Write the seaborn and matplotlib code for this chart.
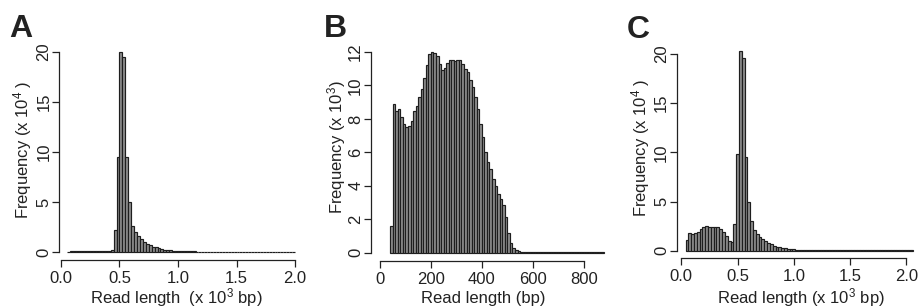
import pandas as pd
import matplotlib
matplotlib.use("Agg")
import matplotlib.pyplot as plt
import seaborn as sns

# Panel A: read-length histogram, 25 bp bins from 50 bp (x 10^3 bp), counts x 10^4
a_start = 0.05
a_width = 0.025
a_counts = [0.05, 0.10, 0.12, 0.12, 0.11, 0.10, 0.10, 0.11, 0.12, 0.12,
            0.13, 0.13, 0.12, 0.12, 0.13, 0.20, 2.2, 9.5, 20.0, 19.5,
            9.5, 5.0, 2.6, 2.0, 1.6, 1.3, 1.05, 0.85, 0.7, 0.55,
            0.45, 0.37, 0.3, 0.25, 0.2, 0.17, 0.14, 0.12, 0.1, 0.09,
            0.08, 0.07, 0.06, 0.055, 0.05, 0.05, 0.045, 0.045, 0.04, 0.04,
            0.04, 0.035, 0.035, 0.035, 0.03, 0.03, 0.03, 0.03, 0.03, 0.03,
            0.03, 0.03, 0.03, 0.03, 0.03, 0.03, 0.03, 0.03, 0.03, 0.03,
            0.03, 0.03, 0.03, 0.03, 0.03, 0.03, 0.03, 0.03]

# Panel B: 10 bp bins from 40 bp, counts x 10^3
b_start = 40
b_width = 10
b_counts = [1.6, 8.9, 8.5, 8.6, 8.1, 7.7, 7.5, 7.55, 7.9, 8.5,
            8.75, 9.3, 9.8, 10.45, 11.25, 11.9, 12.0, 11.95, 11.75, 11.3,
            10.9, 11.05, 11.35, 11.5, 11.55, 11.45, 11.55, 11.5, 11.3, 11.0,
            10.8, 10.3, 9.9, 9.3, 8.6, 7.7, 6.9, 6.0, 5.4, 5.0,
            4.4, 4.0, 3.5, 3.2, 2.85, 2.15, 1.15, 0.55, 0.3, 0.15,
            0.08, 0.05, 0.04, 0.03, 0.03, 0.03, 0.03, 0.03, 0.03, 0.02,
            0.02, 0.02, 0.02, 0.02, 0.02, 0.02, 0.02, 0.02, 0.02, 0.02,
            0.02, 0.02, 0.02, 0.02, 0.02, 0.02, 0.02, 0.02, 0.02, 0.02,
            0.02, 0.02, 0.02, 0.02]

# Panel C: 25 bp bins from 37.5 bp (x 10^3 bp), counts x 10^4
c_start = 0.0375
c_width = 0.025
c_counts = [1.1, 1.75, 1.65, 1.75, 1.95, 2.2, 2.43, 2.5, 2.43, 2.4,
            2.43, 2.36, 2.16, 1.86, 1.49, 1.0, 0.9, 2.7, 9.8, 20.3,
            19.6, 9.5, 4.9, 3.0, 2.1, 1.7, 1.4, 1.15, 0.95, 0.8,
            0.65, 0.52, 0.42, 0.35, 0.28, 0.23, 0.19, 0.16, 0.13, 0.11,
            0.1, 0.09, 0.08, 0.07, 0.06, 0.055, 0.05, 0.05, 0.045, 0.045,
            0.04, 0.04, 0.04, 0.035, 0.035, 0.035, 0.03, 0.03, 0.03, 0.03,
            0.03, 0.03, 0.03, 0.03, 0.03, 0.03, 0.03, 0.03, 0.03, 0.03,
            0.03, 0.03, 0.03, 0.03, 0.03, 0.03, 0.03, 0.03, 0.03, 0.03,
            0.03]

sns.set_style("ticks")
plt.rcParams["font.family"] = ["Liberation Sans", "DejaVu Sans"]
plt.rcParams["mathtext.fontset"] = "custom"
plt.rcParams["mathtext.rm"] = "Liberation Sans"

W, H = 919, 308
INK = "#222222"
fig = plt.figure(figsize=(W / 100, H / 100), dpi=100)


def box(left, right, top, bottom):
    return [left / W, (H - bottom) / H, (right - left) / W, (bottom - top) / H]


def put(x, y, s, **kw):
    fig.text(x / W, 1 - y / H, s, color=INK, **kw)


panels = [
    dict(rect=box(59, 310, 44, 260), start=a_start, width=a_width, counts=a_counts,
         xlim=(-0.017, 2.128), ylim=(-0.8, 20.8),
         xticks=[0.0, 0.5, 1.0, 1.5, 2.0], xlabels=["0.0", "0.5", "1.0", "1.5", "2.0"],
         yticks=[0, 5, 10, 15, 20],
         xlabel="Read length  (x 10$\\mathregular{^{3}}$ bp)", xlab_xy=(176, 298),
         ylabel="Frequency (x 10$\\mathregular{^{4}}$ )", ylab_xy=(23, 150),
         tag="A", tag_xy=(9, 37)),
    dict(rect=box(370.7, 613, 44, 260.7), start=b_start, width=b_width, counts=b_counts,
         xlim=(-36.5, 915), ylim=(-0.48, 12.48),
         xticks=[0, 200, 400, 600, 800], xlabels=["0", "200", "400", "600", "800"],
         yticks=[0, 2, 4, 6, 8, 10, 12],
         xlabel="Read length (bp)", xlab_xy=(483, 298),
         ylabel="Frequency (x 10$\\mathregular{^{3}}$)", ylab_xy=(337, 147),
         tag="B", tag_xy=(324, 37)),
    dict(rect=box(676.7, 916, 46, 258.3), start=c_start, width=c_width, counts=c_counts,
         xlim=(-0.041, 2.086), ylim=(-0.77, 20.8),
         xticks=[0.0, 0.5, 1.0, 1.5, 2.0], xlabels=["0.0", "0.5", "1.0", "1.5", "2.0"],
         yticks=[0, 5, 10, 15, 20],
         xlabel="Read length (x 10$\\mathregular{^{3}}$ bp)", xlab_xy=(801, 298),
         ylabel="Frequency (x 10$\\mathregular{^{4}}$ )", ylab_xy=(641, 148),
         tag="C", tag_xy=(627, 38)),
]

for p in panels:
    ax = fig.add_axes(p["rect"])
    n = len(p["counts"])
    edges = [p["start"] + p["width"] * i for i in range(n + 1)]
    df = pd.DataFrame({
        "length": [p["start"] + p["width"] * (i + 0.5) for i in range(n)],
        "count": p["counts"],
    })
    sns.histplot(data=df, x="length", weights="count", bins=edges, ax=ax,
                 color="#8e8e8e", edgecolor="#1e1e1e", linewidth=0.85, alpha=1)
    ax.set_xlim(*p["xlim"])
    ax.set_ylim(*p["ylim"])
    ax.set_xticks(p["xticks"])
    ax.set_xticklabels(p["xlabels"])
    ax.set_yticks(p["yticks"])
    for s in ["top", "right"]:
        ax.spines[s].set_visible(False)
    ax.spines["left"].set_bounds(p["yticks"][0], p["yticks"][-1])
    ax.spines["bottom"].set_bounds(p["xticks"][0], p["xticks"][-1])
    for s in ["left", "bottom"]:
        ax.spines[s].set_linewidth(0.9)
        ax.spines[s].set_color(INK)
    ax.tick_params(axis="both", direction="out", length=4.8, width=0.9,
                   labelsize=12, colors=INK, labelcolor=INK)
    ax.tick_params(axis="y", labelrotation=90, pad=0.6)
    ax.tick_params(axis="x", pad=3.2)
    for lab in ax.get_yticklabels():
        lab.set_va("center")
    ax.set_xlabel("")
    ax.set_ylabel("")
    put(*p["xlab_xy"], p["xlabel"], fontsize=12, ha="center", va="center")
    put(*p["ylab_xy"], p["ylabel"], fontsize=12, ha="center", va="center",
        rotation=90)
    put(*p["tag_xy"], p["tag"], fontsize=23, fontweight="bold", ha="left",
        va="baseline")

fig.savefig("out.png", dpi=100)
